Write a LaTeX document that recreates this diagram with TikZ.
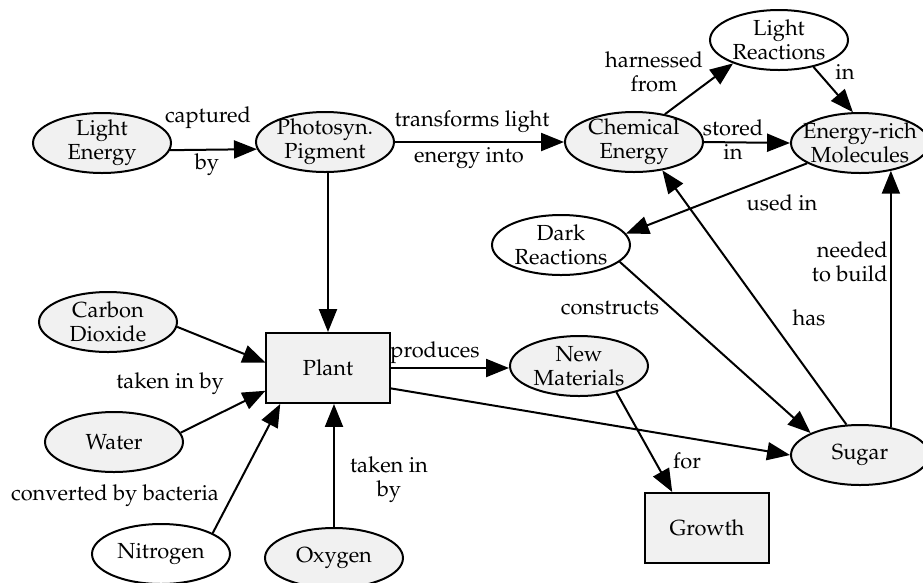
\documentclass[tikz,border=0pt]{standalone}
\usepackage[T1]{fontenc}
\renewcommand{\rmdefault}{ppl}
\usetikzlibrary{shapes.geometric,arrows.meta}
\definecolor{nodefill}{HTML}{F1F1F1}
\begin{document}
\begin{tikzpicture}[x=0.55pt,y=-0.55pt,
  font=\fontsize{12}{13.2}\selectfont,
  txt/.style={align=center,inner sep=0pt},
  concept/.style={ellipse,draw,line width=1.1pt,fill=nodefill,
    minimum width=75.9pt,minimum height=33pt,inner sep=0pt},
  whiteconcept/.style={concept,fill=white},
  box/.style={rectangle,draw,line width=1.1pt,fill=nodefill,
    minimum width=67.7pt,minimum height=38.5pt,align=center},
  lbl/.style={inner sep=0pt,align=center},
  conn/.style={line width=1.1pt,-{Triangle[length=12.6pt,width=9.9pt]}}
]
\useasboundingbox (0,0) rectangle (923,582);
\clip (0,0) rectangle (923,582);

% concepts
\node[concept,label={[txt]center:{Light\\Energy}}] (le) at (102,143) {};
\node[concept,label={[txt]center:{Photosyn.\\Pigment}}] (ph) at (325,142) {};
\node[concept,label={[txt]center:{Chemical\\Energy}}] (ch) at (634,142) {};
\node[concept,label={[txt]center:{Energy-rich\\Molecules}}] (er) at (860,143) {};
\node[whiteconcept,label={[txt]center:{Light\\Reactions}}] (lr) at (779,40) {};
\node[whiteconcept,label={[txt]center:{Dark\\Reactions}}] (dr) at (561,245) {};
\node[concept,label={[txt]center:{Carbon\\Dioxide}}] (co) at (108,322) {};
\node[concept,label={[txt]center:{Water}}] (wa) at (114,442) {};
\node[whiteconcept,label={[txt]center:{Nitrogen}}] (ni) at (161,554) {};
\node[concept,label={[txt]center:{Oxygen}}] (ox) at (334,558) {};
\node[concept,label={[txt]center:{New\\Materials}}] (nm) at (579,366) {};
\node[concept,label={[txt]center:{Sugar}}] (su) at (860,455) {};
\node[box] (plant) at (328,368) {Plant};
\node[box] (gr) at (707,528) {Growth};

% links
\draw[conn] (le.-6) -- (ph.186);
\draw[conn] (ph.east) -- (ch.west);
\draw[conn] (plant.north |- ph.south) -- (plant.north);
\draw[conn] (ch.42) -- (lr.207);
\draw[conn] (lr.-38) -- (er.103);
\draw[conn] (ch.east) -- (er.west);
\draw[conn] (er.201) -- (dr.10);
\draw[conn] (dr.-16) -- (su.156);
\draw[conn] (su.114) -- (ch.-45);
\draw[conn] (su.42) -- (su.42 |- er.-42);
\draw[conn] (plant.east) -- (plant.east -| nm.west);
\draw[conn] (plant.-18) -- (su.west);
\draw[conn] (nm.-35) -- (gr.134);
\draw[conn] (co.-4) -- (plant.175);
\draw[conn] (wa.8) -- (plant.200);
\draw[conn] (ni.22) -- (plant.217);
\draw[conn] (ox.north) -- (ox.north |- plant.south);

% link labels
\node[lbl] (l1a) at (208,118) {captured};
\node[lbl] (l1b) at (207,165) {by};
\node[lbl] (l2a) at (472,122) {transforms light};
\node[lbl] (l2b) at (469,158) {energy into};
\node[lbl] (l3) at (654,72) {harnessed\\from};
\node[lbl] (l4) at (845,72) {in};
\node[lbl] (l5) at (733,140) {stored\\in};
\node[lbl] (l6) at (782,203) {used in};
\node[lbl,anchor=east,align=right] (l7) at (888,262) {needed\\to build};
\node[lbl] (l8) at (610,308) {constructs};
\node[lbl] (l9) at (809,318) {has};
\node[lbl] (l10) at (435,353) {produces};
\node[lbl] (l11) at (687,461) {for};
\node[lbl] (l12) at (170,384) {taken in by};
\node[lbl] (l13) at (115,496) {converted by bacteria};
\node[lbl] (l14) at (389,480) {taken in\\by};
\end{tikzpicture}
\end{document}
